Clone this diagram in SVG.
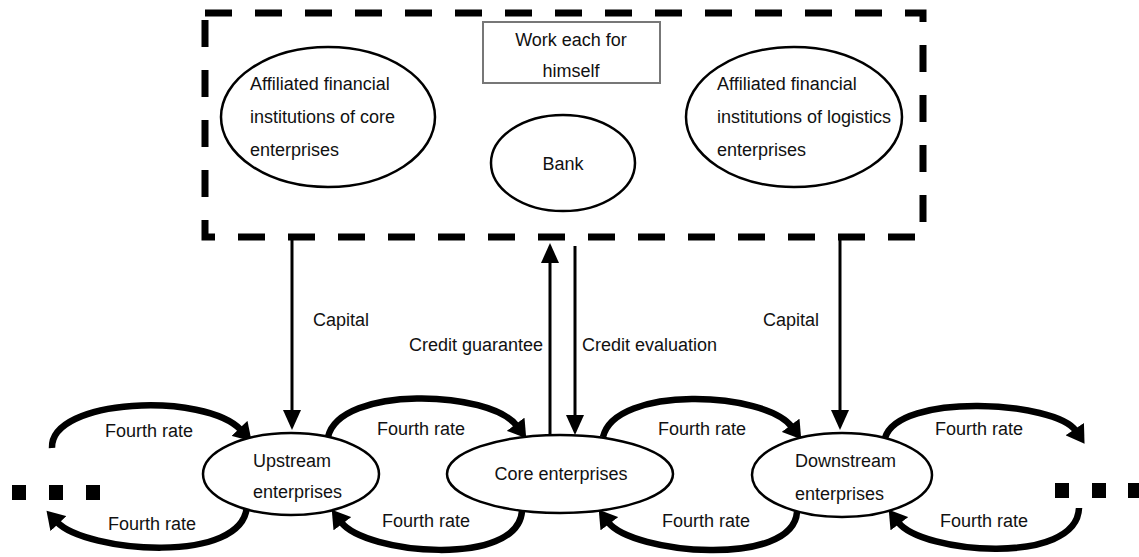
<svg xmlns="http://www.w3.org/2000/svg" width="1139" height="557" viewBox="0 0 1139 557">
<style>
text{font-family:"Liberation Sans",Arial,sans-serif;font-size:18px;fill:#111}
.el{fill:#fff;stroke:#000;stroke-width:2.5}
.arc{fill:none;stroke:#000;stroke-width:6.5;marker-end:url(#ah)}
.ln{fill:none;stroke:#000;stroke-width:3;marker-end:url(#sa)}
.mid{text-anchor:middle}
.end{text-anchor:end}
</style>
<defs>
<marker id="ah" markerUnits="userSpaceOnUse" markerWidth="18" markerHeight="22" viewBox="0 0 16 20" refX="2" refY="10" orient="auto"><path d="M0,0 L16,10 L0,20 z" fill="#000"/></marker>
<marker id="sa" markerUnits="userSpaceOnUse" markerWidth="20" markerHeight="18" viewBox="0 0 20 18" refX="0" refY="9" orient="auto"><path d="M0,0 L20,9 L0,18 z" fill="#000"/></marker>
</defs>
<rect width="1139" height="557" fill="#fff"/>

<g id="finance-group">
<rect x="205" y="13" width="718" height="224" fill="none" stroke="#000" stroke-width="7" stroke-dasharray="27 23"/>
</g>

<g id="label-box">
<rect x="483" y="22" width="177" height="61" fill="#fff" stroke="#777" stroke-width="2"/>
<text x="571" y="46" class="mid">Work each for</text>
<text x="571" y="77" class="mid">himself</text>
</g>

<g id="core-finance">
<ellipse cx="328" cy="117" rx="107" ry="70" class="el"/>
<text x="250" y="90">Affiliated financial</text>
<text x="250" y="123">institutions of core</text>
<text x="250" y="156">enterprises</text>
</g>

<g id="bank">
<ellipse cx="563" cy="163" rx="72" ry="48" class="el"/>
<text x="563" y="170" class="mid">Bank</text>
</g>

<g id="logistics-finance">
<ellipse cx="794" cy="117" rx="108" ry="70" class="el"/>
<text x="717" y="90">Affiliated financial</text>
<text x="717" y="123">institutions of logistics</text>
<text x="717" y="156">enterprises</text>
</g>

<g id="connectors">
<line x1="292" y1="240" x2="292" y2="410" class="ln"/>
<line x1="550" y1="436" x2="550" y2="263" class="ln"/>
<line x1="575" y1="246" x2="575" y2="415" class="ln"/>
<line x1="840" y1="240" x2="840" y2="410" class="ln"/>
<path d="M52 448 C50 398 205 392 241 430" class="arc"/>
<path d="M247 505 C245 566 85 552 57 522" class="arc"/>
<path d="M328 437 C340 385 490 390 517 426" class="arc"/>
<path d="M522 511 C518 568 365 554 341 522" class="arc"/>
<path d="M603 437 C615 385 765 391 792 427" class="arc"/>
<path d="M797 512 C793 568 632 554 608 522" class="arc"/>
<path d="M885 438 C898 392 1056 401 1076 431" class="arc"/>
<path d="M1079 508 C1077 566 922 554 898 522" class="arc"/>
</g>

<g id="connector-labels">
<text x="313" y="326">Capital</text>
<text x="543" y="351" class="end">Credit guarantee</text>
<text x="582" y="351">Credit evaluation</text>
<text x="763" y="326">Capital</text>
<text x="105" y="437">Fourth rate</text>
<text x="108" y="530">Fourth rate</text>
<text x="377" y="435">Fourth rate</text>
<text x="382" y="527">Fourth rate</text>
<text x="658" y="435">Fourth rate</text>
<text x="662" y="527">Fourth rate</text>
<text x="935" y="435">Fourth rate</text>
<text x="940" y="527">Fourth rate</text>
</g>

<g id="upstream">
<ellipse cx="291" cy="474" rx="88" ry="41" class="el"/>
<text x="253" y="467">Upstream</text>
<text x="253" y="498">enterprises</text>
</g>

<g id="core">
<ellipse cx="560" cy="474" rx="113" ry="39" class="el"/>
<text x="561" y="480" class="mid">Core enterprises</text>
</g>

<g id="downstream">
<ellipse cx="842" cy="475" rx="90" ry="42" class="el"/>
<text x="795" y="467">Downstream</text>
<text x="795" y="500">enterprises</text>
</g>

<g id="ellipsis-left">
<rect x="12" y="485" width="14" height="15" fill="#000"/>
<rect x="49" y="485" width="14" height="15" fill="#000"/>
<rect x="86" y="485" width="14" height="15" fill="#000"/>
</g>
<g id="ellipsis-right">
<rect x="1055" y="483" width="14" height="15" fill="#000"/>
<rect x="1092" y="483" width="14" height="15" fill="#000"/>
<rect x="1128" y="483" width="14" height="15" fill="#000"/>
</g>
</svg>
